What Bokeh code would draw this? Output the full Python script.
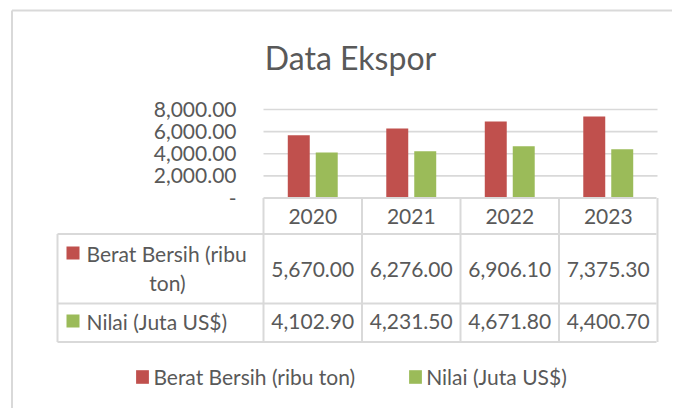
from bokeh.plotting import figure
from bokeh.models import Range1d, Legend, LegendItem
from bokeh.core.properties import value
from bokeh.embed import file_html
from bokeh.resources import INLINE

# ---------------- data ----------------
years = ["2020", "2021", "2022", "2023"]
berat = [5670.00, 6276.00, 6906.10, 7375.30]
nilai = [4102.90, 4231.50, 4671.80, 4400.70]
series_names = ["Berat Bersih (ribu ton)", "Nilai (Juta US$)"]
y_ticks = [0, 2000, 4000, 6000, 8000]
y_tick_labels = ["-", "2,000.00", "4,000.00", "6,000.00", "8,000.00"]
title_text = "Data Ekspor"

# ---------------- style / layout ----------------
RED = "#C0504D"
GREEN = "#9BBB59"
TXT = "#595959"
LINE = "#d9d9d9"
FONT = value("Lato")
FS = value("21px")

W, H = 672, 408
OX, OY = 0, 0                      # page offset of the canvas
PLOT_L, PLOT_R = 263, 657          # plot area (page px)
ZERO_Y, TOP_Y = 197.5, 109
Y_MAX = 8000
ux = (PLOT_R - PLOT_L) / len(years)
uy = (ZERO_Y - TOP_Y) / Y_MAX

x_range = Range1d((OX - PLOT_L) / ux, (OX + W - PLOT_L) / ux)
y_range = Range1d(-(OY + H - ZERO_Y) / uy, (ZERO_Y - OY) / uy)

p = figure(width=W, height=H, x_range=x_range, y_range=y_range,
           output_backend="svg", toolbar_location=None,
           x_axis_location=None, y_axis_location=None,
           min_border=0, outline_line_color=None,
           background_fill_color="white", border_fill_color="white")
p.xgrid.grid_line_color = None
p.ygrid.grid_line_color = None
p.extra_x_ranges = {"px": Range1d(OX, OX + W)}
p.extra_y_ranges = {"px": Range1d(OY + H, OY)}

n = len(years)

# chart border (top + left)
p.segment(x0=[11.5, 11.5], y0=[10, 10], x1=[OX + W, 11.5], y1=[10, OY + H],
          x_range_name="px", y_range_name="px", line_color=LINE, line_width=2)

# title
p.text(x=[350], y=[57], text=[title_text], x_range_name="px", y_range_name="px",
       text_font=FONT, text_font_size=value("32px"), text_color=TXT,
       text_align="center", text_baseline="middle")

# gridlines
grid_vals = [t for t in y_ticks if t > 0]
p.segment(x0=[0] * len(grid_vals), x1=[n] * len(grid_vals), y0=grid_vals, y1=grid_vals,
          line_color=LINE, line_width=1.6)

# y tick labels
p.text(x=[236] * len(y_ticks), y=y_ticks, text=y_tick_labels, x_range_name="px",
       text_font=FONT, text_font_size=FS, text_color=TXT,
       text_align="right", text_baseline="middle")

# bars
off, bw = 0.142, 0.223
r_red = p.vbar(x=[i + 0.5 - off for i in range(n)], top=berat, width=bw,
               fill_color=RED, line_color=None)
r_green = p.vbar(x=[i + 0.5 + off for i in range(n)], top=nilai, width=bw,
                 fill_color=GREEN, line_color=None)

# data table
ROW_Y = [ZERO_Y, 233.5, 303, 341.5]   # row borders (page px)
TAB_L = 57
# horizontal lines
p.segment(x0=[PLOT_L, TAB_L, TAB_L, TAB_L], x1=[PLOT_R - 1] * 4, y0=ROW_Y, y1=ROW_Y,
          x_range_name="px", y_range_name="px", line_color=LINE, line_width=2)
# vertical column lines (category boundaries)
p.segment(x0=list(range(n + 1)), x1=list(range(n + 1)), y0=[ROW_Y[0]] * (n + 1),
          y1=[ROW_Y[3]] * (n + 1), y_range_name="px", line_color=LINE, line_width=2)
p.segment(x0=[TAB_L], x1=[TAB_L], y0=[ROW_Y[1]], y1=[ROW_Y[3]],
          x_range_name="px", y_range_name="px", line_color=LINE, line_width=2)

# header years
p.text(x=[i + 0.5 for i in range(n)], y=[216] * n, text=years, y_range_name="px",
       text_font=FONT, text_font_size=FS, text_color=TXT,
       text_align="center", text_baseline="middle")
# values
fmt = lambda v: f"{v:,.2f}"
p.text(x=[i + 0.5 for i in range(n)], y=[268.5] * n, text=[fmt(v) for v in berat],
       y_range_name="px", text_font=FONT, text_font_size=FS, text_color=TXT,
       text_align="center", text_baseline="middle")
p.text(x=[i + 0.5 for i in range(n)], y=[320.5] * n, text=[fmt(v) for v in nilai],
       y_range_name="px", text_font=FONT, text_font_size=FS, text_color=TXT,
       text_align="center", text_baseline="middle")

# row headers
p.rect(x=[72.5, 72.5], y=[252.5, 320.5], width=13, height=13,
       x_range_name="px", y_range_name="px", fill_color=[RED, GREEN], line_color=None)
l1, l2 = series_names[0].rsplit(" ", 1)
p.text(x=[86], y=[252.5], text=[l1], x_range_name="px", y_range_name="px",
       text_font=FONT, text_font_size=FS, text_color=TXT,
       text_align="left", text_baseline="middle")
p.text(x=[167], y=[281.5], text=[l2], x_range_name="px", y_range_name="px",
       text_font=FONT, text_font_size=FS, text_color=TXT,
       text_align="center", text_baseline="middle")
p.text(x=[86], y=[320.5], text=[series_names[1]], x_range_name="px", y_range_name="px",
       text_font=FONT, text_font_size=FS, text_color=TXT,
       text_align="left", text_baseline="middle")

# legend
legend = Legend(items=[LegendItem(label=series_names[0], renderers=[r_red]),
                       LegendItem(label=series_names[1], renderers=[r_green])],
                location=(134.4 - OX, OY + H - 388.5), orientation="horizontal",
                glyph_width=16, glyph_height=17, label_standoff=3, spacing=52,
                padding=0, margin=0, border_line_color=None, background_fill_alpha=0,
                label_text_font="Lato", label_text_font_size="21px",
                label_text_color=TXT)
p.add_layout(legend)

open("out.html", "w").write(file_html(p, INLINE))
